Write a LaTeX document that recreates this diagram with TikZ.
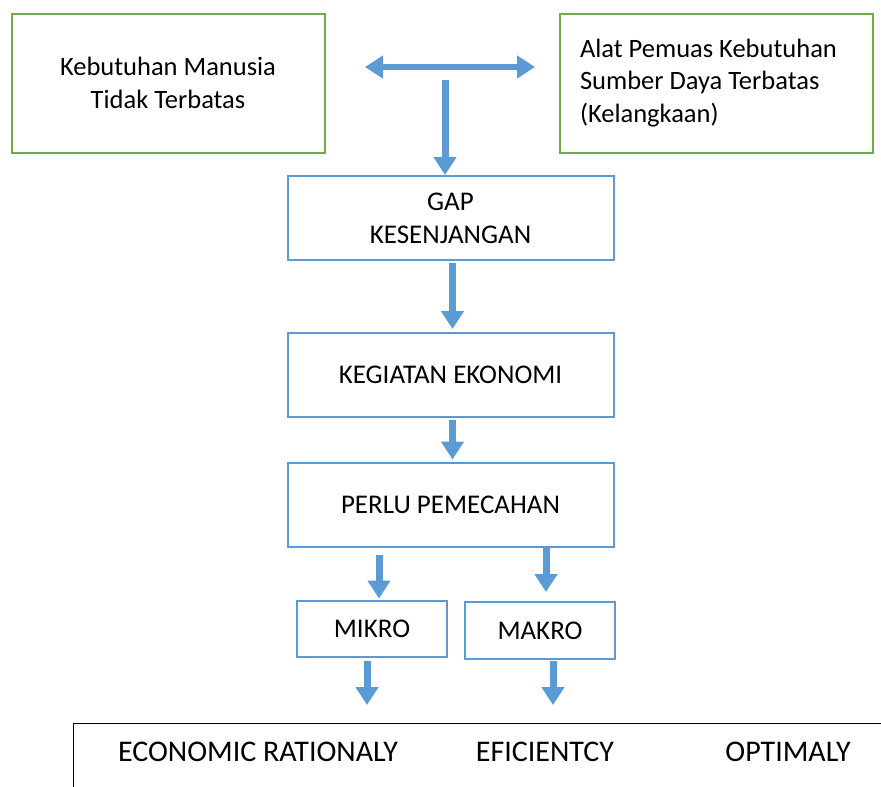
\documentclass[tikz,border=0pt]{standalone}
\usepackage{fontspec}
\setmainfont{Carlito}
\usetikzlibrary{arrows.meta,positioning}
\definecolor{boxgreen}{HTML}{70AD47}
\definecolor{boxblue}{HTML}{5B9BD5}
\tikzset{
  needbox/.style={draw=boxgreen, line width=2pt, minimum width=313pt, minimum height=139pt, font=\fontsize{26.5}{32.5}\selectfont},
  stagebox/.style={draw=boxblue, line width=2pt, minimum width=326pt, minimum height=84pt, align=center, font=\fontsize{27}{33}\selectfont},
  smallbox/.style={draw=boxblue, line width=2pt, minimum width=150pt, minimum height=56pt, font=\fontsize{27}{30}\selectfont},
  flow/.style={draw=boxblue, line width=7pt, -{Triangle[length=18pt,width=22pt]}},
  goal/.style={font=\fontsize{30}{34}\selectfont}
}
\begin{document}
\begin{tikzpicture}[x=1pt,y=-1pt]
  \useasboundingbox (0,0) rectangle (881,787);
  % top row
  \node[needbox, align=center] (need) at (168,83) {Kebutuhan Manusia\\Tidak Terbatas};
  \node[needbox, align=flush left, text width=273pt, inner xsep=0pt] (means) at (716.5,83) {Alat Pemuas Kebutuhan\\Sumber Daya Terbatas\\(Kelangkaan)};
  \coordinate (dblL) at (365,67);
  \coordinate (dblR) at (535,67);
  \draw[flow, {Triangle[length=18pt,width=22pt]}-{Triangle[length=18pt,width=22pt]}, line width=6pt] (dblL) -- (dblR);
  \coordinate (gapin) at (445,80);
  % chain
  \node[stagebox] (gap) at (450.5,218) {GAP\\KESENJANGAN};
  \node[stagebox] (kegiatan) at (450.5,375) {KEGIATAN EKONOMI};
  \node[stagebox] (perlu) at (450.5,504.5) {PERLU PEMECAHAN};
  \draw[flow] (gapin) -- (gapin |- gap.north) ;
  \draw[flow, shorten <=2pt, shorten >=3pt] ([xshift=2pt]gap.south) -- ([xshift=2pt]kegiatan.north);
  \draw[flow, shorten <=2pt, shorten >=2pt] ([xshift=2pt]kegiatan.south) -- ([xshift=2pt]perlu.north);
  % mikro and makro
  \node[smallbox] (mikro) at (372,628.5) {MIKRO};
  \node[smallbox, minimum height=57pt] (makro) at (540,630.5) {MAKRO};
  \coordinate (mikroin) at (379,555);
  \coordinate (makroin) at (546,548);
  \draw[flow, shorten >=1pt] (mikroin) -- (mikroin |- mikro.north);
  \draw[flow, shorten >=9pt] (makroin) -- (makroin |- makro.north);
  \coordinate (mikroout) at (367,705);
  \coordinate (makroout) at (553,705);
  \draw[flow, shorten <=3pt] (mikroout |- mikro.south) -- (mikroout);
  \draw[flow, shorten <=1pt] (makroout |- makro.south) -- (makroout);
  % result
  \draw[line width=1pt] (900,723) -- (73,723) -- (73,800);
  \node[goal] (rational) at (258,752) {ECONOMIC RATIONALY};
  \node[goal] (efisien) at (545,752) {EFICIENTCY};
  \node[goal] (optimal) at (788,752) {OPTIMALY};
\end{tikzpicture}
\end{document}
